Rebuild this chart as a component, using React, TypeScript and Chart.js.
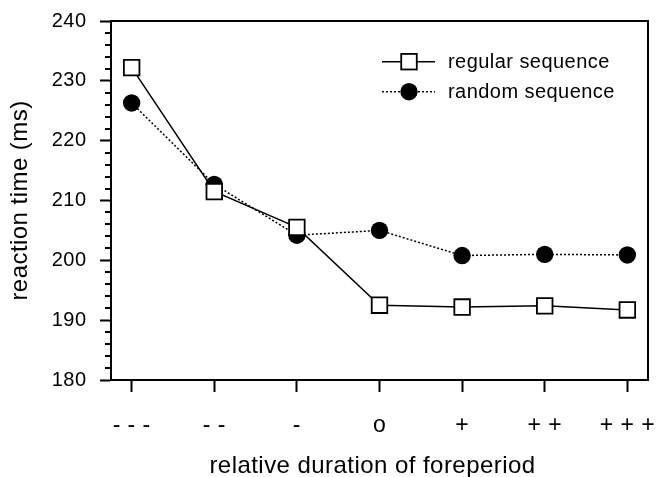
import React, { useEffect, useRef } from 'react';
import { Chart, registerables } from 'chart.js';

Chart.register(...registerables);

const categories = ['- - -', '- -', '-', 'o', '+', '+ +', '+ + +'];
const regularSequence = [232.2, 211.5, 205.5, 192.5, 192.2, 192.4, 191.7];
const randomSequence = [226.3, 212.7, 204.2, 205.0, 200.8, 201.0, 200.9];
const yMin = 180;
const yMax = 240;
const yMajorStep = 10;
const yMinorStep = 2;
const seriesNames = ['regular sequence', 'random sequence'];
const xTitle = 'relative duration of foreperiod';
const yTitle = 'reaction time (ms)';

const FONT = '"Liberation Sans", Arial, Helvetica, sans-serif';
const TRACKING = '0.45px';

const trackingPlugin = {
  id: 'tracking',
  beforeDraw(chart: any) {
    try {
      chart.ctx.letterSpacing = TRACKING;
    } catch (e) {
      /* ignore */
    }
  },
};

const framePlugin = {
  id: 'frame',
  beforeDatasetsDraw(chart: any) {
    const { ctx, chartArea } = chart;
    ctx.save();
    ctx.strokeStyle = '#000';
    ctx.lineWidth = 2;
    ctx.strokeRect(chartArea.left, chartArea.top, chartArea.right - chartArea.left, chartArea.bottom - chartArea.top);
    ctx.restore();
  },
};

const minorTickPlugin = {
  id: 'minorTicks',
  afterDraw(chart: any) {
    const { ctx } = chart;
    const ys = chart.scales.y;
    ctx.save();
    ctx.strokeStyle = '#000';
    ctx.lineWidth = 2;
    for (let v = yMin; v <= yMax; v += yMinorStep) {
      if (v % yMajorStep === 0) continue;
      const py = Math.round(ys.getPixelForValue(v));
      ctx.beginPath();
      ctx.moveTo(ys.right - 6, py);
      ctx.lineTo(ys.right, py);
      ctx.stroke();
    }
    ctx.restore();
  },
};

const xTitlePlugin = {
  id: 'xTitle',
  afterDraw(chart: any) {
    const { ctx, chartArea } = chart;
    ctx.save();
    ctx.fillStyle = '#000';
    ctx.font = `24px ${FONT}`;
    ctx.textAlign = 'center';
    ctx.textBaseline = 'middle';
    ctx.fillText(xTitle, (chartArea.left + chartArea.right) / 2 - 7, chart.height - 10.8);
    ctx.restore();
  },
};

const legendPlugin = {
  id: 'customLegend',
  afterDraw(chart: any) {
    const { ctx, chartArea } = chart;
    const x0 = chartArea.right - 266;
    const xm = chartArea.right - 239;
    const x1 = chartArea.right - 213;
    const xt = chartArea.right - 200;
    const rows = [chartArea.top + 40.7, chartArea.top + 70.7];
    ctx.save();
    chart.data.datasets.forEach((ds: any, i: number) => {
      const y = rows[i];
      ctx.strokeStyle = '#000';
      ctx.lineWidth = ds.borderWidth;
      ctx.setLineDash(ds.borderDash || []);
      ctx.beginPath();
      ctx.moveTo(x0, y);
      ctx.lineTo(x1, y);
      ctx.stroke();
      ctx.setLineDash([]);
      if (ds.pointStyle === 'rect') {
        const s = ds.pointRadius * Math.SQRT1_2;
        ctx.fillStyle = ds.pointBackgroundColor;
        ctx.fillRect(xm - s, y - s, 2 * s, 2 * s);
        ctx.lineWidth = ds.pointBorderWidth;
        ctx.strokeRect(xm - s, y - s, 2 * s, 2 * s);
      } else {
        ctx.fillStyle = ds.pointBackgroundColor;
        ctx.beginPath();
        ctx.arc(xm, y, ds.pointRadius, 0, Math.PI * 2);
        ctx.fill();
      }
      ctx.fillStyle = '#000';
      ctx.font = `20px ${FONT}`;
      ctx.textAlign = 'left';
      ctx.textBaseline = 'middle';
      ctx.fillText(ds.label, xt, y + 1);
    });
    ctx.restore();
  },
};

export default function App() {
  const ref = useRef<HTMLCanvasElement>(null);
  useEffect(() => {
    document.body.style.margin = '0';
    const canvas = ref.current;
    if (!canvas) return;
    const chart = new Chart(canvas, {
      type: 'line',
      data: {
        datasets: [
          {
            label: seriesNames[0],
            data: regularSequence.map((v, i) => ({ x: i, y: v })),
            borderColor: '#000',
            borderWidth: 1.5,
            pointStyle: 'rect',
            pointRadius: 11,
            pointHoverRadius: 11,
            pointBackgroundColor: '#fff',
            pointBorderColor: '#000',
            pointBorderWidth: 1.8,
            tension: 0,
            fill: false,
          },
          {
            label: seriesNames[1],
            data: randomSequence.map((v, i) => ({ x: i, y: v })),
            borderColor: '#000',
            borderWidth: 1.5,
            borderDash: [2, 2],
            pointStyle: 'circle',
            pointRadius: 8.7,
            pointHoverRadius: 8.7,
            pointBackgroundColor: '#000',
            pointBorderColor: '#000',
            pointBorderWidth: 0,
            tension: 0,
            fill: false,
          },
        ],
      },
      options: {
        animation: false,
        responsive: false,
        devicePixelRatio: 1,
        layout: { autoPadding: false, padding: { top: 21, right: 9, left: 0, bottom: 0 } },
        plugins: {
          legend: { display: false },
          tooltip: { enabled: false },
        },
        scales: {
          x: {
            type: 'linear',
            min: -0.25,
            max: 6.25,
            afterBuildTicks: (scale: any) => {
              scale.ticks = categories.map((_, i) => ({ value: i }));
            },
            afterFit: (scale: any) => {
              scale.height = 97;
              scale.paddingLeft = 0;
              scale.paddingRight = 0;
            },
            ticks: {
              callback: (value: any) => categories[Math.round(Number(value))] ?? '',
              color: '#000',
              font: { family: FONT, size: 23 },
              padding: 20.2,
              maxRotation: 0,
              autoSkip: false,
            },
            grid: {
              drawOnChartArea: false,
              drawTicks: true,
              tickLength: 12,
              tickWidth: 2,
              tickColor: '#000',
            },
            border: { display: true, color: '#000', width: 2 },
            title: { display: false },
          },
          y: {
            type: 'linear',
            min: yMin,
            max: yMax,
            afterFit: (scale: any) => {
              scale.width = 111;
              scale.paddingTop = 0;
              scale.paddingBottom = 0;
            },
            ticks: {
              stepSize: yMajorStep,
              color: '#000',
              font: { family: FONT, size: 20 },
              padding: 13.5,
            },
            grid: {
              drawOnChartArea: false,
              drawTicks: true,
              tickLength: 11,
              tickWidth: 2,
              tickColor: '#000',
            },
            border: { display: true, color: '#000', width: 2 },
            title: {
              display: true,
              text: yTitle,
              color: '#000',
              font: { family: FONT, size: 24, lineHeight: 0.9 },
              padding: { top: 10, bottom: 0 },
            },
          },
        },
      },
      plugins: [trackingPlugin, framePlugin, minorTickPlugin, xTitlePlugin, legendPlugin],
    } as any);
    return () => chart.destroy();
  }, []);
  return <canvas ref={ref} width={657} height={477} style={{ display: 'block' }} />;
}
